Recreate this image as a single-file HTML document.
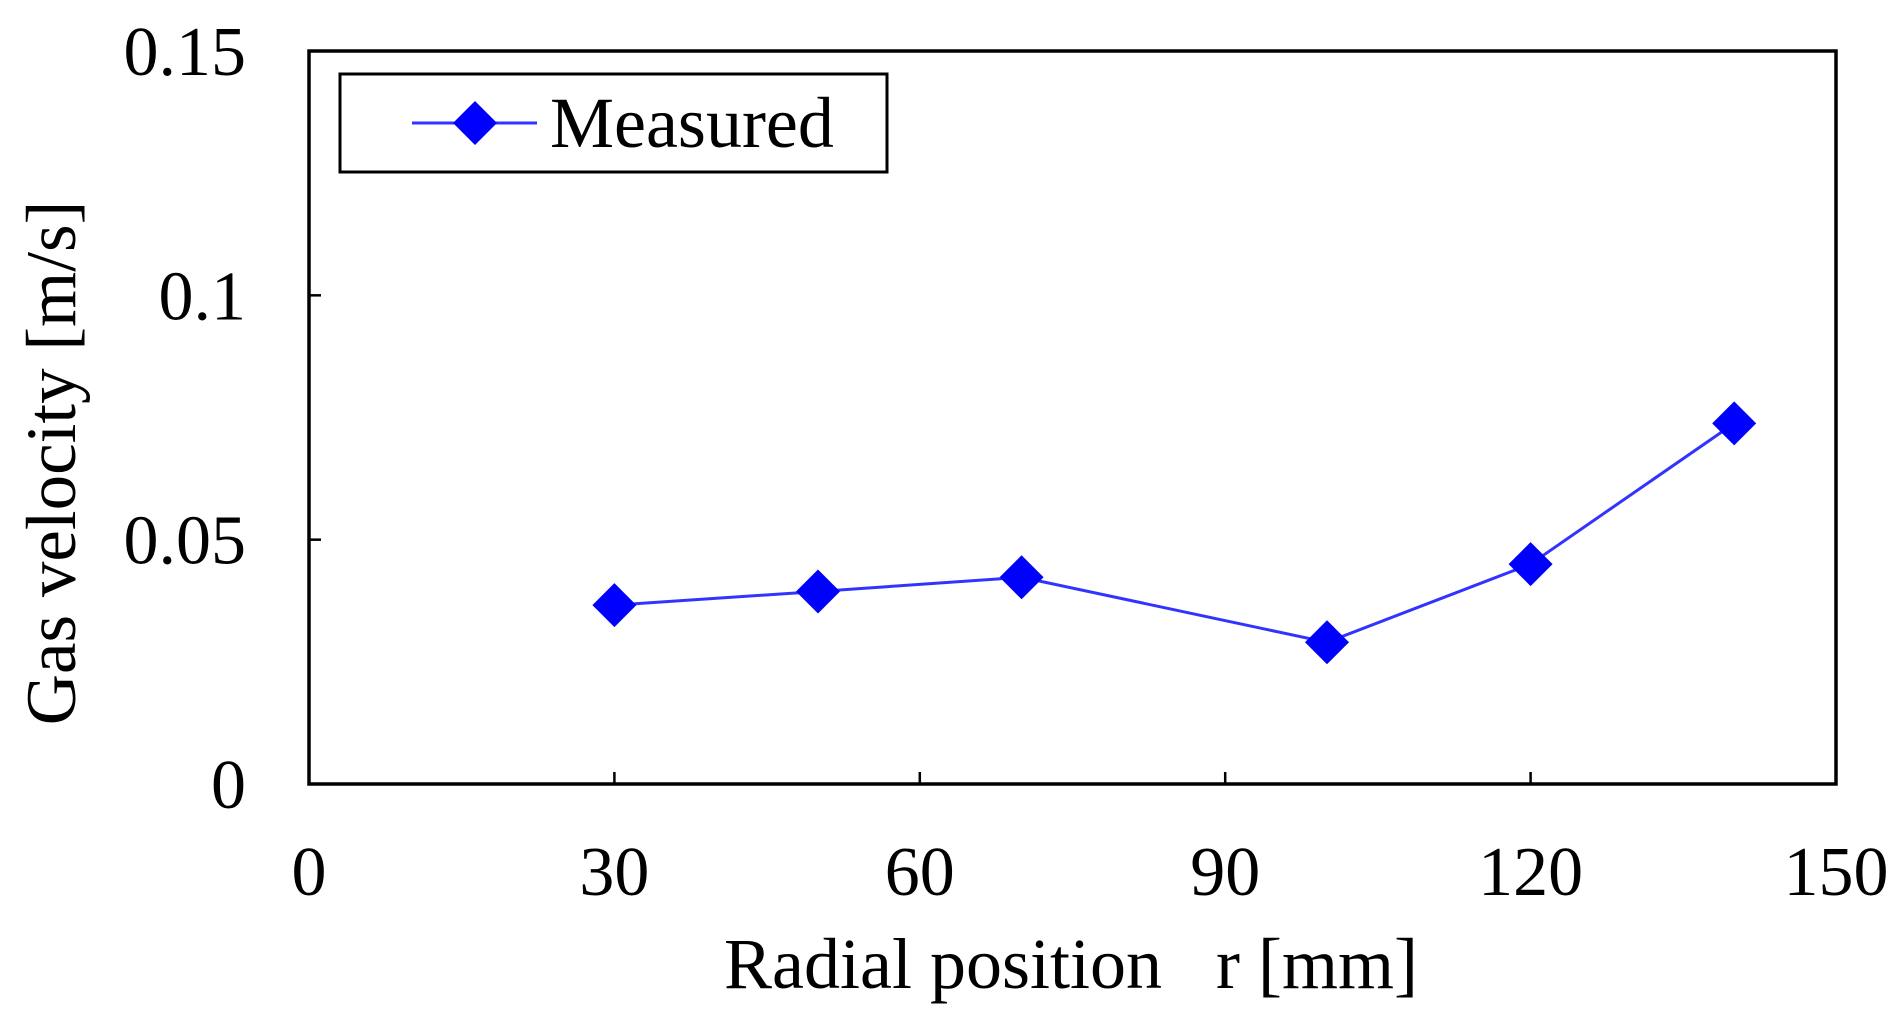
<!DOCTYPE html>
<html><head><meta charset="utf-8"><style>
html,body{margin:0;padding:0;background:#fff;}
svg{display:block;font-family:"Liberation Serif",serif;}
</style></head><body>
<svg id="chart" width="1898" height="1024"></svg>
<script>
const xValues=[30,50,70,100,120,140];
const yValues=[0.0366,0.0394,0.0423,0.029,0.045,0.0738];
const xTicks=[0,30,60,90,120,150];
const yTicks=[0,0.05,0.1,0.15];
const yTickLabels=["0","0.05","0.1","0.15"];
const seriesName="Measured";

const L=309,R=1836,T=51,B=784;
const sx=v=>L+(v-0)/(150-0)*(R-L);
const sy=v=>B-(v-0)/(0.15-0)*(B-T);
const NS="http://www.w3.org/2000/svg";
const svg=document.getElementById('chart');
function mk(tag,attrs,parent){const e=document.createElementNS(NS,tag);for(const k in attrs)e.setAttribute(k,attrs[k]);(parent||svg).appendChild(e);return e;}

const frame=mk('rect',{x:L,y:T,width:R-L,height:B-T,fill:'none',stroke:'#000','stroke-width':3.5});



xTicks.forEach((t,i)=>{
  const ln=mk('line',{x1:sx(t),x2:sx(t),y1:B,y2:B-12,stroke:'#000','stroke-width':2.5});
  
  
  const tx=mk('text',{x:sx(t),y:895,'font-size':70,'text-anchor':'middle',fill:'#000'});
  tx.textContent=t;
  
  
});
yTicks.forEach((t,i)=>{
  const ln=mk('line',{x1:L,x2:L+12,y1:sy(t),y2:sy(t),stroke:'#000','stroke-width':2.5});
  
  
  const tx=mk('text',{x:246,y:sy(t)+24,'font-size':70,'text-anchor':'end',fill:'#000'});
  tx.textContent=yTickLabels[i];
  
  
});

const pts=xValues.map((x,i)=>sx(x)+','+sy(yValues[i])).join(' ');
const line=mk('polyline',{points:pts,fill:'none',stroke:'#3333ff','stroke-width':3});


const d=22;
xValues.forEach((x,i)=>{
  const cx=sx(x),cy=sy(yValues[i]);
  const p=mk('polygon',{points:`${cx},${cy-d} ${cx+d},${cy} ${cx},${cy+d} ${cx-d},${cy}`,fill:'#0000ff'});
  
  
});

const lg=mk('g',{});


mk('rect',{x:340,y:74,width:547,height:98,fill:'#fff',stroke:'#000','stroke-width':3},lg);
mk('line',{x1:412,x2:537,y1:123,y2:123,stroke:'#3333ff','stroke-width':3},lg);
mk('polygon',{points:`475,${123-d} ${475+d},123 475,${123+d} ${475-d},123`,fill:'#0000ff'},lg);
const lt=mk('text',{x:550,y:147,'font-size':72,fill:'#000'},lg);
lt.textContent=seriesName;

const xt=mk('text',{x:1071,y:988,'font-size':72,'text-anchor':'middle',fill:'#000'});
xt.textContent='Radial position\u00a0\u00a0 r [mm]';


const yt=mk('text',{x:0,y:0,'font-size':71,'text-anchor':'middle',fill:'#000',transform:'translate(75,463) rotate(-90)'});
yt.textContent='Gas velocity [m/s]';


</script>
</body></html>
